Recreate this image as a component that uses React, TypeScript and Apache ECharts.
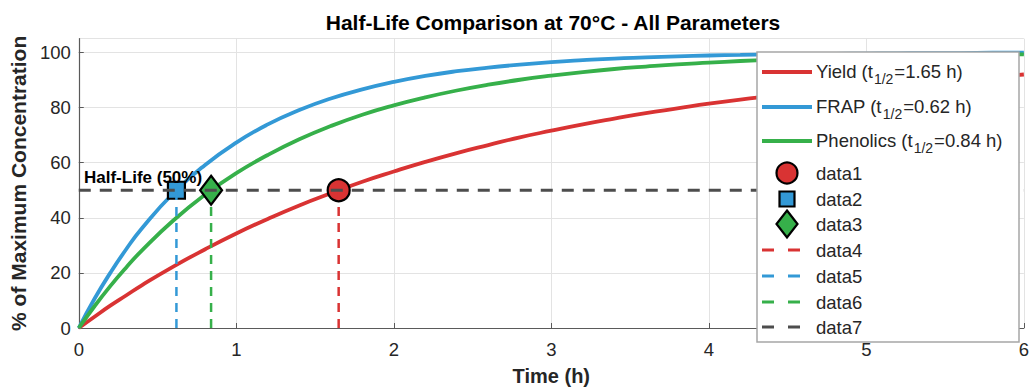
import React, { useEffect, useRef } from "react";
import * as echarts from "echarts";

const timeH = [0, 0.1, 0.2, 0.3, 0.4, 0.6, 0.8, 1.0, 1.2, 1.4, 1.6, 1.8, 2.0, 2.2, 2.4, 2.6, 2.8, 3.0, 3.2, 3.4, 3.6, 3.8, 4.0, 4.2, 4.4, 4.6, 4.8, 5.0, 5.2, 5.4, 5.6, 5.8, 6.0];
const yieldPct = [0, 4.1, 8.1, 11.8, 15.5, 22.3, 28.5, 34.3, 39.6, 44.5, 48.9, 53.1, 56.8, 60.3, 63.5, 66.4, 69.2, 71.6, 73.9, 76.0, 78.0, 79.7, 81.4, 82.9, 84.2, 85.5, 86.7, 87.8, 88.7, 89.6, 90.5, 91.2, 92.0];
const frapPct = [0, 10.6, 20.0, 28.5, 36.1, 48.9, 59.1, 67.3, 73.9, 79.1, 83.3, 86.6, 89.3, 91.5, 93.2, 94.5, 95.6, 96.5, 97.2, 97.8, 98.2, 98.6, 98.9, 99.1, 99.3, 99.4, 99.5, 99.6, 99.7, 99.8, 99.8, 99.9, 99.9];
const phenolicsPct = [0, 7.9, 15.2, 21.9, 28.1, 39.0, 48.3, 56.2, 62.8, 68.5, 73.3, 77.4, 80.8, 83.7, 86.2, 88.3, 90.1, 91.6, 92.9, 94.0, 94.9, 95.7, 96.3, 96.9, 97.4, 97.8, 98.1, 98.4, 98.6, 98.8, 99.0, 99.2, 99.3];

const seriesNames = ["Yield", "FRAP", "Phenolics"];
const halfLives = [1.65, 0.62, 0.84];
const halfLevel = 50;
const xTicks = [0, 1, 2, 3, 4, 5, 6];
const yTicks = [0, 20, 40, 60, 80, 100];

const RED = "#D93333";
const BLUE = "#3399D6";
const GREEN = "#36B04A";
const GRAYD = "#4D4D4D";
const FONT = "'Liberation Sans', Arial, Helvetica, sans-serif";
const TXT = "#262626";

export default function App() {
  const ref = useRef<HTMLDivElement>(null);
  useEffect(() => {
    document.body.style.margin = "0";
    const chart = echarts.init(ref.current!, null, { renderer: "svg" });
    const pairs = (ys: number[]) => timeH.map((t, i) => [t, ys[i]]);
    const colors = [RED, BLUE, GREEN];
    const curves = [yieldPct, frapPct, phenolicsPct];

    const lineSeries = curves.map((ys, i) => ({
      name: seriesNames[i],
      type: "line",
      data: pairs(ys),
      smooth: true,
      showSymbol: false,
      lineStyle: { color: colors[i], width: 3.8 },
      z: 2,
    }));
    const markerSymbols: any[] = ["circle", "rect", "diamond"];
    const markerSizes: any[] = [22, 17, [22, 29]];
    const markerSeries = halfLives.map((h, i) => ({
      name: "data" + (i + 1),
      type: "scatter",
      data: [[h, halfLevel]],
      symbol: markerSymbols[i],
      symbolSize: markerSizes[i],
      itemStyle: { color: colors[i], borderColor: "#000", borderWidth: 2.2, opacity: 1 },
      z: 3,
    }));
    const vertSeries = halfLives.map((h, i) => ({
      name: "data" + (i + 4),
      type: "line",
      data: [[h, 0], [h, halfLevel]],
      showSymbol: false,
      lineStyle: { color: colors[i], width: 2.5, type: [9, 7] },
      z: 4,
    }));
    const horizSeries = {
      name: "data7",
      type: "line",
      data: [[xTicks[0], halfLevel], [xTicks[xTicks.length - 1], halfLevel]],
      showSymbol: false,
      lineStyle: { color: GRAYD, width: 3, type: [12, 9] },
      z: 5,
    };

    const legendRows: any[] = [];
    const lx = 762;
    const tx = 816;
    const rowY = [71, 106, 140, 173, 199, 224, 250, 276, 302, 327];
    const richStyle = {
      m: { fontSize: 18.5, fontFamily: FONT, fill: TXT },
      s: { fontSize: 14, fontFamily: FONT, fill: TXT, padding: [15, 1, 0, 1] },
    };
    for (let i = 0; i < 3; i++) {
      legendRows.push({
        type: "line",
        z: 101,
        shape: { x1: lx, y1: rowY[i] + 1, x2: 812, y2: rowY[i] + 1 },
        style: { stroke: colors[i], lineWidth: 4 },
      });
      legendRows.push({
        type: "text",
        z: 101,
        x: tx,
        y: rowY[i],
        style: {
          text: `{m|${seriesNames[i]} (t}{s|1/2}{m|=${halfLives[i].toFixed(2)} h)}`,
          rich: richStyle,
          verticalAlign: "middle",
          align: "left",
        },
      });
    }
    const mx = 787;
    legendRows.push({ type: "circle", z: 101, shape: { cx: mx, cy: rowY[3], r: 10.5 }, style: { fill: RED, stroke: "#000", lineWidth: 2.2 } });
    legendRows.push({ type: "rect", z: 101, shape: { x: mx - 7.5, y: rowY[4] - 7.5, width: 15, height: 15 }, style: { fill: BLUE, stroke: "#000", lineWidth: 2.2 } });
    legendRows.push({ type: "polygon", z: 101, shape: { points: [[mx, rowY[5] - 13.5], [mx + 10.5, rowY[5]], [mx, rowY[5] + 13.5], [mx - 10.5, rowY[5]]] }, style: { fill: GREEN, stroke: "#000", lineWidth: 2.2 } });
    const dashColors = [RED, BLUE, GREEN, GRAYD];
    for (let i = 0; i < 4; i++) {
      legendRows.push({
        type: "line",
        z: 101,
        shape: { x1: lx, y1: rowY[6 + i], x2: 800, y2: rowY[6 + i] },
        style: { stroke: dashColors[i], lineWidth: 3, lineDash: [12, 14] },
      });
    }
    for (let i = 0; i < 7; i++) {
      legendRows.push({
        type: "text",
        z: 101,
        x: tx,
        y: rowY[3 + i],
        style: { text: "data" + (i + 1), fontSize: 18.5, fontFamily: FONT, fill: TXT, verticalAlign: "middle", align: "left" },
      });
    }

    chart.setOption({
      animation: false,
      backgroundColor: "#fff",
      grid: { left: 78, right: 0, top: 38.7, bottom: 59, containLabel: false },
      xAxis: {
        type: "value",
        min: 0,
        max: 6,
        interval: 1,
        name: "Time (h)",
        nameLocation: "middle",
        nameGap: 38,
        nameTextStyle: { fontSize: 20, fontWeight: "bold", color: TXT, fontFamily: FONT },
        axisLine: { show: true, onZero: false, lineStyle: { color: "#5a5a5a", width: 1.2 } },
        axisTick: { show: true, inside: true, length: 5, lineStyle: { color: "#5a5a5a" } },
        axisLabel: { fontSize: 18.5, color: TXT, fontFamily: FONT, margin: 12 },
        splitLine: { show: true, lineStyle: { color: "#e3e3e3", width: 1 } },
      },
      yAxis: {
        type: "value",
        min: 0,
        max: 105,
        interval: 20,
        name: "% of Maximum Concentration",
        nameLocation: "middle",
        nameGap: 48,
        nameTextStyle: { fontSize: 21, fontWeight: "bold", color: TXT, fontFamily: FONT },
        axisLine: { show: true, onZero: false, lineStyle: { color: "#5a5a5a", width: 1.2 } },
        axisTick: { show: true, inside: true, length: 5, lineStyle: { color: "#5a5a5a" } },
        axisLabel: { fontSize: 18.5, color: TXT, fontFamily: FONT, margin: 8 },
        splitLine: { show: true, lineStyle: { color: "#e3e3e3", width: 1 } },
      },
      series: [...lineSeries, ...markerSeries, ...vertSeries, horizSeries],
      graphic: [
        {
          type: "text",
          x: 553,
          y: 22,
          style: {
            text: "Half-Life Comparison at 70°C - All Parameters",
            fontSize: 21,
            fontWeight: "bold",
            fontFamily: FONT,
            fill: "#000",
            align: "center",
            verticalAlign: "middle",
          },
        },
        {
          type: "text",
          x: 84,
          y: 177,
          z: 10,
          style: {
            text: "Half-Life (50%)",
            fontSize: 17,
            fontWeight: "bold",
            fontFamily: FONT,
            fill: "#000",
            align: "left",
            verticalAlign: "middle",
          },
        },
        { type: "rect", z: 100, shape: { x: 757, y: 52, width: 262, height: 290 }, style: { fill: "#fff", stroke: "#a6a6a6", lineWidth: 1.5 } },
        ...legendRows,
      ],
    });
    return () => chart.dispose();
  }, []);
  return <div ref={ref} style={{ width: 1032, height: 391 }} />;
}
